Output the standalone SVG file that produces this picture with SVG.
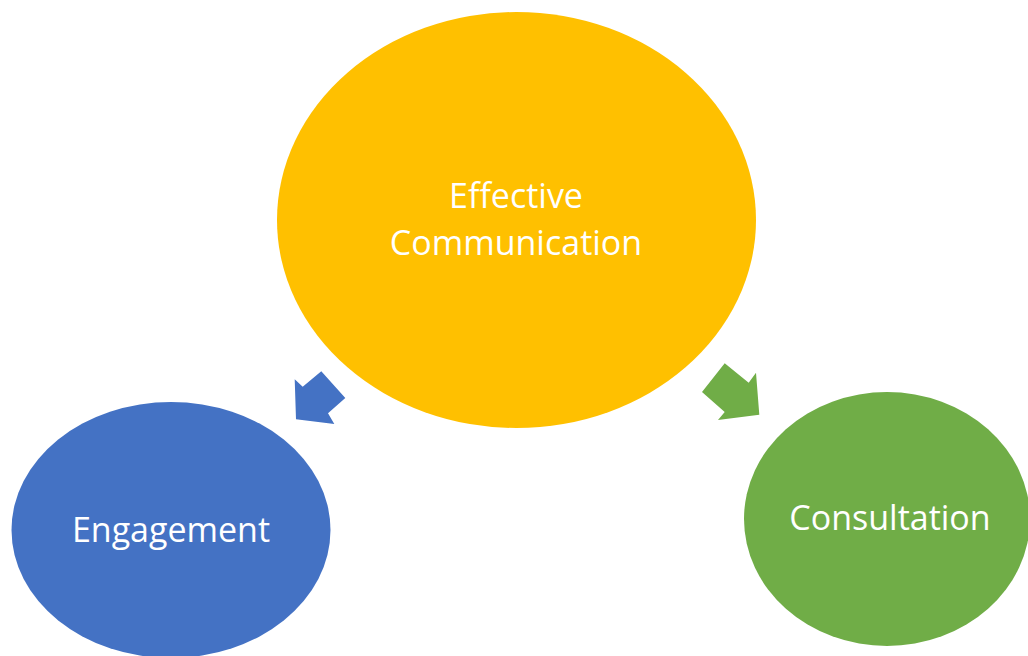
<svg xmlns="http://www.w3.org/2000/svg" width="1028" height="656" viewBox="0 0 1028 656">
<style>
text{font-family:"Open Sans","Liberation Sans",sans-serif;font-size:34px;fill:#fff;text-anchor:middle}
</style>
<rect width="1028" height="656" fill="#fff"/>
<g id="connectors">
<polygon fill="#4472C4" points="294.7,379.3 302.7,386.7 321.3,371.3 345.3,398 328,413.3 334.3,424 296,419.3"/>
<polygon fill="#70AD47" points="702,392 724.7,363.3 748.7,382.7 756,372.7 759.3,414.7 718,420 724.7,412"/>
</g>
<g id="effective">
<ellipse cx="516.5" cy="220" rx="239.5" ry="208" fill="#FFC000"/>
<text x="516" y="208">Effective</text>
<text x="516" y="255">Communication</text>
</g>
<g id="engagement">
<ellipse cx="171" cy="530" rx="159.5" ry="128" fill="#4472C4"/>
<text x="171" y="542">Engagement</text>
</g>
<g id="consultation">
<ellipse cx="887" cy="519" rx="143" ry="127" fill="#70AD47"/>
<text x="890" y="530">Consultation</text>
</g>
</svg>
